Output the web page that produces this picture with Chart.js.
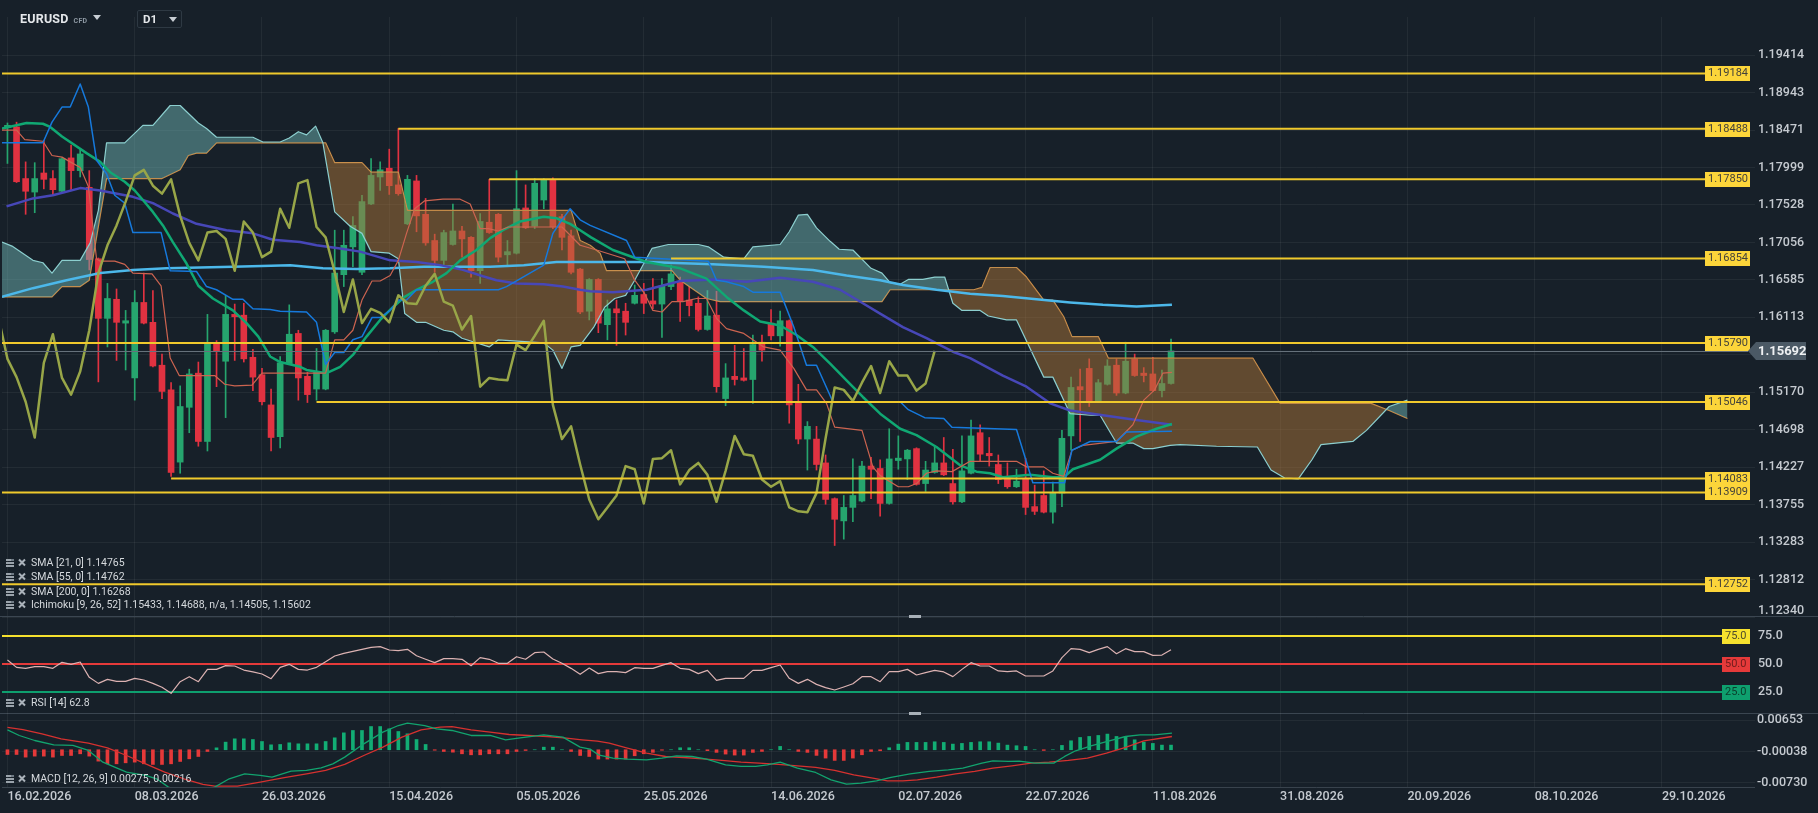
<!DOCTYPE html>
<html><head><meta charset="utf-8">
<script src="https://cdn.jsdelivr.net/npm/chart.js@4.4.1/dist/chart.umd.min.js"></script>
<style>
html,body{margin:0;padding:0;background:#172029;overflow:hidden;}
#wrap{position:relative;width:1818px;height:813px;background:#172029;}
canvas{position:absolute;left:0;top:0;}
.hd{position:absolute;font-family:Roboto,sans-serif;color:#e4e7ea;}
.tri{position:absolute;width:0;height:0;border-left:4px solid transparent;border-right:4px solid transparent;border-top:5px solid #c8ced4;}
</style></head><body>
<div id="wrap">
<canvas id="cMain" width="1818" height="813"></canvas>
<canvas id="cRsi" width="1818" height="813"></canvas>
<canvas id="cMacd" width="1818" height="813"></canvas>
<div class="hd" style="left:20px;top:11px;font-weight:bold;font-size:12.5px;letter-spacing:0.2px;">EURUSD<span style="font-size:7px;color:#8d98a2;margin-left:5px;letter-spacing:0.3px;">CFD</span></div>
<div class="tri" style="left:93px;top:15px;"></div>
<div style="position:absolute;left:137px;top:10px;width:43px;height:16px;border:1px solid #2e3943;border-radius:2px;"></div>
<div class="hd" style="left:143px;top:12px;font-weight:bold;font-size:11.5px;">D1</div>
<div class="tri" style="left:169px;top:17px;"></div>
</div>
<script>
// ---------- DATA ----------
const dateLabels = ['16.02.2026','08.03.2026','26.03.2026','15.04.2026','05.05.2026','25.05.2026','14.06.2026','02.07.2026','22.07.2026','11.08.2026','31.08.2026','20.09.2026','08.10.2026','29.10.2026'];
const dateTickBars = [0,14,28,42,56,70,84,98,112,126,140,154,168,182];
const priceTicks = [1.12340,1.12812,1.13283,1.13755,1.14227,1.14698,1.15170,1.15642,1.16113,1.16585,1.17056,1.17528,1.17999,1.18471,1.18943,1.19414];
const rsiTicks = [75,50,25];
const macdTicks = [0.00653,-0.00038,-0.00730];

const opens = [1.1850,1.1851,1.1786,1.1769,1.1793,1.1786,1.1770,1.1812,1.1796,1.1775,
1.1685,1.1610,1.1634,1.1604,1.1535,1.1630,1.1605,1.1551,1.1520,1.1429,
1.1498,1.1541,1.1455,1.1579,1.1556,1.1615,1.1614,1.1561,1.1539,1.1501,
1.1461,1.1553,1.1591,1.1537,1.1521,1.1521,1.1593,1.1665,1.1700,1.1668,
1.1754,1.1788,1.1799,1.1778,1.1729,1.1783,1.1741,1.1708,1.1683,1.1703,
1.1720,1.1712,1.1670,1.1731,1.1741,1.1690,1.1692,1.1749,1.1726,1.1759,
1.1785,1.1738,1.1714,1.1672,1.1619,1.1659,1.1602,1.1622,1.1619,1.1629,
1.1640,1.1632,1.1628,1.1650,1.1656,1.1633,1.1629,1.1596,1.1614,1.1509,
1.1537,1.1535,1.1533,1.1580,1.1604,1.1588,1.1607,1.1503,1.1458,1.1458,
1.1428,1.1383,1.1355,1.1372,1.1380,1.1424,1.1421,1.1377,1.1431,1.1433,
1.1446,1.1402,1.1416,1.1428,1.1402,1.1379,1.1415,1.1466,1.1440,1.1426,
1.1408,1.1398,1.1408,1.1373,1.1387,1.1366,1.1390,1.1462,1.1524,1.1547,
1.1506,1.1527,1.1551,1.1516,1.1559,1.1541,1.1540,1.1519,1.1528];
const highs = [1.1856,1.1857,1.1807,1.1806,1.1834,1.1796,1.1812,1.1828,1.1824,1.1796,
1.1686,1.1654,1.1647,1.1620,1.1645,1.1667,1.1645,1.1565,1.1529,1.1525,
1.1546,1.1555,1.1615,1.1582,1.1639,1.1628,1.1629,1.1571,1.1547,1.1521,
1.1562,1.1627,1.1595,1.1542,1.1572,1.1596,1.1721,1.1721,1.1738,1.1765,
1.1811,1.1807,1.1823,1.1849,1.1790,1.1790,1.1761,1.1716,1.1721,1.1754,
1.1726,1.1713,1.1742,1.1785,1.1742,1.1708,1.1796,1.1778,1.1786,1.1786,
1.1787,1.1741,1.1721,1.1673,1.1660,1.1660,1.1633,1.1633,1.1629,1.1652,
1.1654,1.1660,1.1660,1.1677,1.1662,1.1650,1.1637,1.1645,1.1644,1.1553,
1.1576,1.1572,1.1589,1.1589,1.1621,1.1619,1.1608,1.1527,1.1480,1.1474,
1.1438,1.1384,1.1387,1.1433,1.1430,1.1435,1.1432,1.1471,1.1462,1.1445,
1.1447,1.1430,1.1450,1.1460,1.1445,1.1462,1.1482,1.1476,1.1460,1.1438,
1.1428,1.1420,1.1434,1.1400,1.1418,1.1404,1.1469,1.1536,1.1546,1.1559,
1.1533,1.1558,1.1559,1.1580,1.1565,1.1548,1.1561,1.1545,1.1584];
const lows = [1.1805,1.1781,1.1741,1.1743,1.1773,1.1765,1.1769,1.1772,1.1788,1.1671,
1.1530,1.1574,1.1557,1.1545,1.1507,1.1603,1.1549,1.1509,1.1411,1.1415,
1.1466,1.1449,1.1443,1.1524,1.1485,1.1557,1.1555,1.1519,1.1501,1.1443,
1.1447,1.1552,1.1507,1.1504,1.1507,1.1520,1.1591,1.1650,1.1675,1.1665,
1.1753,1.1771,1.1766,1.1765,1.1728,1.1719,1.1702,1.1668,1.1677,1.1702,
1.1687,1.1662,1.1654,1.1717,1.1681,1.1675,1.1691,1.1723,1.1723,1.1748,
1.1723,1.1696,1.1666,1.1616,1.1608,1.1592,1.1583,1.1576,1.1589,1.1628,
1.1616,1.1622,1.1586,1.1646,1.1606,1.1613,1.1594,1.1595,1.1517,1.1500,
1.1526,1.1531,1.1503,1.1556,1.1583,1.1575,1.1478,1.1452,1.1419,1.1419,
1.1376,1.1324,1.1332,1.1354,1.1379,1.1383,1.1361,1.1376,1.1420,1.1407,
1.1400,1.1392,1.1415,1.1412,1.1376,1.1378,1.1414,1.1430,1.1424,1.1402,
1.1396,1.1397,1.1363,1.1363,1.1365,1.1352,1.1373,1.1444,1.1455,1.1499,
1.1504,1.1526,1.1513,1.1515,1.1537,1.1530,1.1518,1.1511,1.1527];
const closes = [1.1853,1.1782,1.1770,1.1786,1.1785,1.1772,1.1811,1.1796,1.1817,1.1684,
1.1610,1.1635,1.1605,1.1607,1.1630,1.1604,1.1550,1.1518,1.1416,1.1499,
1.1540,1.1455,1.1578,1.1569,1.1615,1.1612,1.1559,1.1536,1.1505,1.1460,
1.1554,1.1590,1.1535,1.1514,1.1543,1.1595,1.1667,1.1702,1.1727,1.1757,
1.1790,1.1797,1.1777,1.1767,1.1785,1.1739,1.1705,1.1683,1.1718,1.1720,
1.1710,1.1670,1.1732,1.1718,1.1687,1.1694,1.1748,1.1724,1.1780,1.1784,
1.1725,1.1712,1.1668,1.1618,1.1659,1.1604,1.1622,1.1617,1.1605,1.1639,
1.1629,1.1628,1.1651,1.1666,1.1631,1.1626,1.1596,1.1613,1.1524,1.1535,
1.1533,1.1532,1.1577,1.1570,1.1588,1.1607,1.1501,1.1458,1.1474,1.1426,
1.1382,1.1357,1.1372,1.1387,1.1424,1.1420,1.1377,1.1433,1.1434,1.1444,
1.1401,1.1419,1.1428,1.1413,1.1379,1.1418,1.1462,1.1439,1.1437,1.1407,
1.1398,1.1405,1.1372,1.1367,1.1366,1.1390,1.1459,1.1523,1.1520,1.1506,
1.1529,1.1550,1.1516,1.1556,1.1538,1.1538,1.1519,1.1528,1.1569];
const lastPrice = 1.15692;

const sma21Bars = [-0.6,2.1,3.9,4.7,6,8.7,10.2,11.3,12.9,14,14.9,16,17.1,18.2,19.7,21,22.6,24.8,26.3,27.6,28.9,30,32.2,32.9,35.1,36.6,38,39.5,41,42.4,43.7,45,46.8,48.3,49.8,51.6,53.1,54.5,56.4,59,60.4,61.9,63,64.2,66.6,70.3,74,76.9,79.1,81,82.8,85,86.8,88.6,90.5,92.3,94.1,96,98.2,100,102.2,104.8,106.6,108.1,109.5,112.5,115,116.2,117.2,120.2,122,124.2,126.4,128.1];
const sma21Vals = [1.1849,1.1856,1.1855,1.1851,1.1839,1.1818,1.1807,1.1794,1.1782,1.1771,1.1759,1.1744,1.1727,1.1706,1.1679,1.1651,1.1635,1.1620,1.1604,1.1587,1.1562,1.1555,1.1549,1.1545,1.1541,1.1549,1.1564,1.1587,1.1608,1.1624,1.1637,1.1646,1.1656,1.1667,1.1683,1.1696,1.1711,1.1721,1.1732,1.1738,1.1736,1.1729,1.1721,1.1712,1.1696,1.1681,1.1673,1.1660,1.1637,1.1620,1.1606,1.1601,1.1589,1.1574,1.1553,1.1532,1.1511,1.1490,1.1471,1.1463,1.1448,1.1425,1.1417,1.1415,1.1410,1.1413,1.1410,1.1410,1.1420,1.1432,1.1446,1.1461,1.1471,1.1477];
const sma55Bars = [-0.1,2.8,5,8,10.2,13.8,16,18.2,20.8,24.1,27,29.2,32.2,34,36.6,38.8,40.6,42.1,45,47.6,50.1,52.3,53.8,56,59,61.1,63,64.1,66.6,70.3,74,77.6,81.3,85,88.6,91.6,94.1,96,98.5,101.1,104,105.9,109.5,112.1,114.7,116.9,120.5,124.2,128.1];
const sma55Vals = [1.1751,1.1761,1.1765,1.1774,1.1771,1.1763,1.1755,1.1742,1.1729,1.1721,1.1717,1.1709,1.1706,1.1702,1.1698,1.1694,1.1688,1.1683,1.1681,1.1677,1.1671,1.1663,1.1658,1.1654,1.1653,1.1650,1.1646,1.1644,1.1643,1.1646,1.1657,1.1659,1.1656,1.1661,1.1656,1.1646,1.1629,1.1616,1.1599,1.1585,1.1568,1.1560,1.1538,1.1524,1.1503,1.1494,1.1488,1.1482,1.1476];
const sma200Bars = [-0.6,2.8,6.5,10.2,13.8,17.5,21.2,24.8,31.1,34.7,38.4,42.1,45.8,53.1,56.8,60.4,70.3,77.6,83.2,88.6,92.3,96,98.5,102.2,105.9,109.5,113.2,116.9,120.5,124.2,128.1];
const sma200Vals = [1.1637,1.1648,1.1658,1.1667,1.1671,1.1673,1.1674,1.1675,1.1677,1.1673,1.1672,1.1673,1.1675,1.1675,1.1677,1.1681,1.1681,1.1678,1.1675,1.1671,1.1664,1.1658,1.1652,1.1646,1.1641,1.1638,1.1634,1.1630,1.1627,1.1625,1.1627];
const tenkanBars = [-0.6,1,1.9,3.9,4.9,6,6.9,8,8.9,9.8,10.2,11.8,12.9,13.8,15.9,16.9,17.9,18.9,22.8,23.9,25,26.9,28,35,36,37,38,39,40.1,41,42.1,43,43.9,44.8,45.9,47.9,49.8,50.9,52,52.9,54,55.1,60,61,63,64.8,67.9,69,70.1,71,72,73.1,74.3,75.8,76.9,78,79.1,81,82,83.2,85,86.5,87.9,89,90.1,91,94,95.2,96,98,99.1,100,101.1,102.2,103.9,105.9,111,112.1,114,115,116.2,117.1,118.3,122,123.8,125,126.2,127.1,128.1];
const tenkanVals = [1.1847,1.1847,1.1835,1.1833,1.1815,1.1813,1.1807,1.1800,1.1776,1.1685,1.1682,1.1682,1.1678,1.1667,1.1666,1.1651,1.1560,1.1538,1.1538,1.1527,1.1525,1.1526,1.1541,1.1541,1.1583,1.1583,1.1595,1.1633,1.1657,1.1657,1.1664,1.1683,1.1717,1.1748,1.1758,1.1760,1.1760,1.1754,1.1723,1.1723,1.1720,1.1725,1.1725,1.1725,1.1702,1.1696,1.1685,1.1658,1.1641,1.1620,1.1618,1.1631,1.1631,1.1635,1.1635,1.1610,1.1597,1.1591,1.1583,1.1574,1.1570,1.1547,1.1520,1.1520,1.1503,1.1473,1.1469,1.1423,1.1412,1.1398,1.1398,1.1402,1.1415,1.1418,1.1417,1.1430,1.1430,1.1423,1.1423,1.1415,1.1411,1.1444,1.1450,1.1455,1.1476,1.1507,1.1520,1.1541,1.1542];
const kijunBars = [-0.6,3.9,4.9,6,6.9,8,8.9,9.8,10.9,11.8,12.9,13.8,16.9,17.9,20.8,21.9,23,24.8,25.9,27,28.9,30,32.9,34,35,36,37,38,39,40.1,41,42.1,43,43.9,45,54,54.9,59,60,61,61.9,63,64.1,68.1,69,77.1,78,79.1,81,82,85,86.5,87.9,89,90.8,98.2,99.1,100.9,103,103.9,111,112.8,116.3,117.1,119.1,122,123.1,128.1];
const kijunVals = [1.1831,1.1831,1.1857,1.1876,1.1876,1.1905,1.1876,1.1809,1.1792,1.1765,1.1755,1.1718,1.1718,1.1670,1.1669,1.1650,1.1646,1.1634,1.1634,1.1622,1.1621,1.1619,1.1618,1.1605,1.1552,1.1567,1.1567,1.1583,1.1587,1.1611,1.1611,1.1620,1.1633,1.1633,1.1646,1.1646,1.1650,1.1677,1.1717,1.1734,1.1748,1.1734,1.1727,1.1708,1.1687,1.1682,1.1658,1.1656,1.1650,1.1643,1.1643,1.1599,1.1551,1.1551,1.1505,1.1505,1.1495,1.1485,1.1484,1.1473,1.1470,1.1403,1.1403,1.1444,1.1455,1.1455,1.1467,1.1468];
const chikouStartBar = -1;
const chikouVals = [1.1612,1.1559,1.1536,1.1505,1.1460,1.1554,1.1590,1.1535,1.1514,1.1543,
1.1595,1.1667,1.1702,1.1727,1.1757,1.1790,1.1797,1.1777,1.1767,1.1785,
1.1739,1.1705,1.1683,1.1718,1.1720,1.1710,1.1670,1.1732,1.1718,1.1687,
1.1694,1.1748,1.1724,1.1780,1.1784,1.1725,1.1712,1.1668,1.1618,1.1659,
1.1604,1.1622,1.1617,1.1605,1.1639,1.1629,1.1628,1.1651,1.1666,1.1631,
1.1626,1.1596,1.1613,1.1524,1.1535,1.1533,1.1532,1.1577,1.1570,1.1588,
1.1607,1.1501,1.1458,1.1474,1.1426,1.1382,1.1357,1.1372,1.1387,1.1424,
1.1420,1.1377,1.1433,1.1434,1.1444,1.1401,1.1419,1.1428,1.1413,1.1379,
1.1418,1.1462,1.1439,1.1437,1.1407,1.1398,1.1405,1.1372,1.1367,1.1366,
1.1390,1.1459,1.1523,1.1520,1.1506,1.1529,1.1550,1.1516,1.1556,1.1538,
1.1538,1.1519,1.1528,1.1569];
const spanABars = [-0.6,0.5,2.8,3.9,4.9,6,8,9.1,10,10.9,12.9,14.9,16,17.9,19,21,21.9,23,27,28.1,30,31,32,32.9,33.9,34.7,36,37.7,39,40,42,43,43.7,45,46,48,49,50,53,54,59,60,61,62,63,64.5,65.7,66.8,68,69,70.9,72.7,76,77.1,78.8,81,82,85,86,87,88,89,90.5,91.5,93,95,96.2,97.1,98.2,99.1,100.7,102,103.1,104,105,107,107.9,109.9,111,114,115,116.9,119.1,120.2,122,123.8,125,126,127.9,129,133,137.5,139,140.5,142,143.5,144.5,148,149.5,152,154];
const spanAVals = [1.1706,1.1701,1.1683,1.1680,1.1667,1.1683,1.1683,1.1705,1.1746,1.1831,1.1831,1.1853,1.1853,1.1878,1.1878,1.1856,1.1849,1.1838,1.1838,1.1832,1.1832,1.1837,1.1845,1.1841,1.1852,1.1831,1.1744,1.1726,1.1717,1.1694,1.1692,1.1685,1.1616,1.1605,1.1605,1.1595,1.1593,1.1585,1.1574,1.1583,1.1579,1.1570,1.1547,1.1574,1.1576,1.1599,1.1624,1.1635,1.1639,1.1658,1.1698,1.1703,1.1703,1.1700,1.1687,1.1685,1.1700,1.1703,1.1719,1.1740,1.1741,1.1724,1.1707,1.1697,1.1696,1.1673,1.1667,1.1655,1.1653,1.1659,1.1659,1.1662,1.1662,1.1629,1.1620,1.1620,1.1613,1.1608,1.1608,1.1536,1.1536,1.1490,1.1488,1.1488,1.1453,1.1453,1.1446,1.1446,1.1450,1.1451,1.1449,1.1448,1.1419,1.1409,1.1408,1.1432,1.1451,1.1455,1.1469,1.1499,1.1507];
const spanBBars = [-0.6,4.9,6,8,9,10.9,17,19,19.9,20.8,21.9,23,35,36,39,40,43,44,62,63,64.1,65.2,65.9,73.1,74,76.9,78.4,96.2,97.1,106.3,107.2,108.1,111,112.1,114,115,116.2,117.1,120,121.1,137,140,150,152,154];
const spanBVals = [1.1637,1.1637,1.1650,1.1650,1.1658,1.1786,1.1786,1.1797,1.1815,1.1818,1.1818,1.1831,1.1831,1.1806,1.1806,1.1794,1.1794,1.1746,1.1746,1.1708,1.1702,1.1692,1.1670,1.1670,1.1658,1.1635,1.1631,1.1631,1.1646,1.1646,1.1649,1.1674,1.1674,1.1662,1.1633,1.1633,1.1612,1.1587,1.1587,1.1560,1.1560,1.1503,1.1503,1.1494,1.1484];

const levelValues = [1.19184,1.18488,1.17850,1.16854,1.15790,1.15046,1.14083,1.13909,1.12752];
const levelStartBars = [-1,43,53,73,-1,34,18,-1,-1];

const rsiVals = [53.6,47.0,46.1,47.6,47.6,46.1,51.5,49.7,51.8,38.1,32.7,36.3,34.5,34.5,37.2,35.7,32.7,29.2,23.8,34.2,
38.7,34.2,45.2,45.2,48.5,48.2,44.6,42.9,41.1,36.9,47.0,49.7,45.2,44.6,47.0,52.1,57.1,59.5,61.3,63.1,
64.9,65.5,62.5,61.9,63.1,57.4,54.2,51.2,54.8,54.8,54.2,48.5,55.7,54.2,50.6,50.6,56.5,54.2,60.1,60.7,
54.5,50.6,46.1,40.8,46.4,41.4,43.2,43.2,42.3,46.7,46.1,46.1,48.8,51.2,46.1,45.2,41.4,44.3,35.4,37.2,
37.2,37.2,44.3,44.3,46.7,49.1,37.2,32.7,36.3,31.8,28.9,26.8,29.5,32.4,38.7,38.7,34.2,43.2,43.2,45.2,
40.2,42.3,44.3,42.9,38.7,45.2,51.2,48.2,48.2,43.8,43.2,43.8,39.3,39.3,39.3,43.8,55.7,63.7,63.1,60.1,
63.1,65.5,59.2,63.7,61.0,61.0,57.7,58.0,62.8];
const rsiLevels = [75,50,25];

const histVals = [-0.00104,-0.00104,-0.00162,-0.0014,-0.0014,-0.00162,-0.00126,-0.00126,-0.00089,-0.0014,
-0.0025,-0.00309,-0.00309,-0.00287,-0.00272,-0.00309,-0.00323,-0.00323,-0.00309,-0.00257,
-0.00199,-0.00148,-0.00038,0.00042,0.00167,0.0024,0.0024,0.00225,0.00181,0.00108,
0.00116,0.00152,0.0013,0.0013,0.0013,0.00181,0.00262,0.00371,0.00423,0.00423,
0.0051,0.0051,0.00459,0.00401,0.0035,0.00225,0.00116,-0.0001,-0.00038,-0.00053,
-0.00089,-0.00111,-0.00111,-0.00089,-0.00089,-0.00089,-0.00038,-0.00016,0,0.00057,
0.00057,0,-0.00038,-0.00126,-0.00148,-0.00205,-0.00205,-0.00205,-0.00205,-0.00132,
-0.00088,-0.00058,-0.0001,0,0.00044,0.00044,0,-0.0002,-0.00058,-0.00095,
-0.00117,-0.00117,-0.00058,-0.00037,0,0.00073,0,-0.00037,-0.00058,-0.00124,
-0.00183,-0.00234,-0.00234,-0.00183,-0.0011,-0.00037,-0.00022,0.00044,0.00124,0.00161,
0.00161,0.00161,0.00175,0.00161,0.00124,0.00139,0.00161,0.00175,0.00175,0.00146,
0.00102,0.00088,0.00073,0,-0.00015,0,0.00095,0.00197,0.0027,0.00292,
0.00314,0.00344,0.00292,0.00292,0.00219,0.00168,0.00139,0.00102,0.00102];
const macdBars = [0,1.3,3,5.1,7.2,8.9,10.5,13.1,15.2,16.4,17.7,19.5,21.5,22.8,24.4,26.1,27.8,29.1,31.2,32.9,34.5,35.8,37.1,39.2,41.3,43,44,45.9,47.2,48.9,51,53.1,54.8,56.4,59,61.1,63,64.1,65,66.6,68.2,70.3,72,73.6,75.3,76.9,79,80.7,82.3,83.6,85,86.9,88.9,90.6,92.3,93.9,95.6,97.2,99.3,101.4,103.5,105.1,107.2,108.4,110.1,111.3,113,115.1,116.3,117.5,119.2,120.9,123,124.6,126.2,128.1];
const macdVals = [0.00437,0.00313,0.00203,0.00108,0.00094,-0.00016,-0.00272,-0.00491,-0.00564,-0.00637,-0.0082,-0.0094,-0.0093,-0.0082,-0.00637,-0.00528,-0.00564,-0.00601,-0.0047,-0.00455,-0.00396,-0.00309,-0.00162,0.0013,0.00386,0.00532,0.00583,0.00532,0.00459,0.00423,0.00313,0.00313,0.00218,0.00262,0.00327,0.00276,0.00057,0.00013,-0.0011,-0.00184,-0.00206,-0.00221,-0.00184,-0.00133,-0.00148,-0.00206,-0.0033,-0.00367,-0.00367,-0.0033,-0.00272,-0.00404,-0.00499,-0.0066,-0.00755,-0.00733,-0.00682,-0.00608,-0.00528,-0.00477,-0.0044,-0.00404,-0.00294,-0.00243,-0.00257,-0.0025,-0.00294,-0.00294,-0.00147,-0.00023,0.00086,0.00181,0.00291,0.00328,0.00328,0.00364];
const signalBars = [0,1.7,3.8,5.9,8.9,11,13.1,15.2,17.3,19.4,21.5,22.8,25.3,27.8,30.3,32.9,35,37.1,39.2,41.3,43.4,45.5,47.6,48.9,51,53.1,55.2,57.3,59.4,61.5,63.2,64.9,66.2,68.2,70.3,72.4,74.4,76.5,78.6,80.7,82.7,84.8,86.9,88.9,91,93.1,95.2,96.8,98.5,100.1,102.2,104.3,106.4,108.4,110.5,112.6,114.6,116.7,118.8,120.9,123,125,128.1];
const signalVals = [0.0049,0.00444,0.0035,0.0024,0.00145,0.00042,-0.00126,-0.00309,-0.00491,-0.00637,-0.00762,-0.00798,-0.00798,-0.00711,-0.00616,-0.00528,-0.00455,-0.00323,-0.00126,0.00057,0.00276,0.00437,0.00496,0.0051,0.00437,0.00386,0.00335,0.00313,0.00291,0.00254,0.00218,0.00189,0.00146,0.00035,-0.00075,-0.00148,-0.0017,-0.00199,-0.00235,-0.00272,-0.00294,-0.00323,-0.00352,-0.00389,-0.00455,-0.0055,-0.00623,-0.00682,-0.00682,-0.0066,-0.00601,-0.00528,-0.00477,-0.00404,-0.00352,-0.00294,-0.00272,-0.00235,-0.00184,-0.00075,0.0005,0.00196,0.00291];

const mainLegend = ['SMA [21, 0] 1.14765','SMA [55, 0] 1.14762','SMA [200, 0] 1.16268','Ichimoku [9, 26, 52] 1.15433, 1.14688, n/a, 1.14505, 1.15602'];
const rsiLegend = 'RSI [14] 62.8';
const macdLegend = 'MACD [12, 26, 9] 0.00275, 0.00216';

// ---------- STYLE ----------
Chart.defaults.font.family = 'Roboto, sans-serif';
const GRID = 'rgba(255,255,255,0.055)';
const GREEN = '#26a56e', RED = '#e13241';
const LABEL = '#c5cad0';
const X_MIN = -0.6, X_MAX = 192.24;
const xy = (bars, vals) => bars.map((b,i)=>({x:b, y:vals[i]}));

function baseOptions(top, bottom, yMin, yMax, yTicks, yGrid){
  return {
    responsive:false, animation:false, devicePixelRatio:1, events:[],
    layout:{padding:{top:top,bottom:bottom,left:2,right:0}, autoPadding:false},
    plugins:{legend:{display:false}, tooltip:{enabled:false}},
    scales:{
      x:{type:'linear', min:X_MIN, max:X_MAX, offset:false,
         afterBuildTicks:a=>{a.ticks = dateTickBars.map(v=>({value:v}));},
         ticks:{display:false}, grid:{color:GRID, drawTicks:false, offset:false, lineWidth:1}, border:{display:false}},
      y:{type:'linear', position:'right', min:yMin, max:yMax, beginAtZero:false,
         afterBuildTicks:a=>{a.ticks = yTicks.map(v=>({value:v}));},
         afterFit:s=>{s.width = 63;},
         ticks:{display:false}, grid:{display:yGrid, color:GRID, drawTicks:false}, border:{display:false}}
    }
  };
}
function drawLegendIcon(ctx, x, y){
  ctx.fillStyle = '#9aa3ab';
  ctx.fillRect(x, y-4, 8, 2); ctx.fillRect(x, y-1, 8, 2); ctx.fillRect(x, y+2, 8, 2);
  ctx.fillStyle = '#6f7a84'; ctx.fillRect(x+5, y-4, 3, 2);
  ctx.strokeStyle = '#aab2ba'; ctx.lineWidth = 2;
  ctx.beginPath(); ctx.moveTo(x+13, y-3.5); ctx.lineTo(x+19, y+2.5); ctx.moveTo(x+19, y-3.5); ctx.lineTo(x+13, y+2.5); ctx.stroke();
}
function legendText(ctx, txt, y){
  drawLegendIcon(ctx, 6, y);
  ctx.fillStyle = '#d5d9dd'; ctx.font = '10.5px Roboto'; ctx.textAlign = 'left'; ctx.textBaseline = 'middle';
  ctx.fillText(txt, 31, y);
}
function separator(ctx, y){
  ctx.strokeStyle = '#3b4651'; ctx.lineWidth = 1;
  ctx.beginPath(); ctx.moveTo(0, y+0.5); ctx.lineTo(1818, y+0.5); ctx.stroke();
  ctx.fillStyle = '#a9b1b8'; ctx.fillRect(909, y-1, 12, 3);
}

// ---------- MAIN CHART ----------
const mainDecor = {
  id:'mainDecor',
  afterDatasetsDraw(chart){
    const {ctx, chartArea:a, scales:{x, y}} = chart;
    ctx.save();
    const cy = Math.round(y.getPixelForValue(lastPrice)) + 0.5;
    ctx.strokeStyle = '#66717b'; ctx.lineWidth = 1;
    ctx.beginPath(); ctx.moveTo(a.left, cy); ctx.lineTo(1748, cy); ctx.stroke();
    levelValues.forEach((v,i)=>{
      const ly = y.getPixelForValue(v);
      const sx = Math.max(a.left, x.getPixelForValue(levelStartBars[i]));
      ctx.strokeStyle = '#f0c92c'; ctx.lineWidth = 2;
      ctx.beginPath(); ctx.moveTo(sx, ly); ctx.lineTo(1705, ly); ctx.stroke();
      ctx.fillStyle = '#fcd53a'; ctx.fillRect(1705, Math.round(ly)-7, 45, 15);
      ctx.fillStyle = '#44423a'; ctx.font = '11px Roboto'; ctx.textAlign = 'left'; ctx.textBaseline = 'middle';
      ctx.fillText(v.toFixed(5), 1708, Math.round(ly)+0.5);
    });
    ctx.restore();
  },
  afterDraw(chart){
    const {ctx, scales:{y}} = chart;
    ctx.save();
    ctx.font = '500 12.5px Roboto'; ctx.fillStyle = LABEL; ctx.textAlign = 'left'; ctx.textBaseline = 'middle';
    priceTicks.forEach(v=>{ ctx.fillText(v.toFixed(5), 1758, Math.min(y.getPixelForValue(v), 611)); });
    const cy = Math.round(y.getPixelForValue(lastPrice));
    ctx.fillStyle = '#4b5965';
    ctx.beginPath(); ctx.moveTo(1748, cy); ctx.lineTo(1756, cy-9); ctx.lineTo(1806, cy-9); ctx.lineTo(1806, cy+9); ctx.lineTo(1756, cy+9); ctx.closePath(); ctx.fill();
    ctx.fillStyle = '#eef0f2'; ctx.font = 'bold 13px Roboto';
    ctx.fillText(lastPrice.toFixed(5), 1758, cy+0.5);
    const rows = [563, 577, 592, 605];
    mainLegend.forEach((t,i)=>legendText(ctx, t, rows[i]));
    separator(ctx, 616);
    ctx.restore();
  }
};
const candleColor = c => closes[c.dataIndex] >= opens[c.dataIndex] ? GREEN : RED;
const lineDs = (data, color, width, order) => ({type:'line', data, parsing:false, borderColor:color, borderWidth:width, pointRadius:0, fill:false, tension:0, order, borderJoinStyle:'round'});

const mainDatasets = [
  {type:'bar', data:lows.map((l,i)=>({x:i, y:[l, highs[i]]})), backgroundColor:candleColor, barThickness:1, grouped:false, order:11, borderWidth:0},
  {type:'bar', data:opens.map((o,i)=>({x:i, y:[o, closes[i]]})), backgroundColor:candleColor, barThickness:6, grouped:false, order:10, borderWidth:0, minBarLength:1.5},
  lineDs(xy(spanBBars, spanBVals), '#d58f45', 1.2, 6),
  Object.assign(lineDs(xy(spanABars, spanAVals), '#8ccfcf', 1.2, 5), {fill:{target:2, above:'rgba(110,178,178,0.5)', below:'rgba(172,116,56,0.5)'}}),
  lineDs(xy(sma200Bars, sma200Vals), '#4cb8ea', 2.5, 4),
  lineDs(xy(sma55Bars, sma55Vals), '#4747b8', 2.5, 3),
  lineDs(xy(sma21Bars, sma21Vals), '#10a873', 2.5, 2),
  lineDs(xy(kijunBars, kijunVals), '#1679dc', 1.5, 1),
  lineDs(xy(tenkanBars, tenkanVals), '#cd6450', 1.2, 1),
  lineDs(chikouVals.map((v,i)=>({x:chikouStartBar+i, y:v})), '#98a648', 2.5, 0)
];
const mainOpts = baseOptions(17, 196, 1.12340, 1.19894, priceTicks, true);
new Chart(document.getElementById('cMain'), {type:'line', data:{datasets:mainDatasets}, options:mainOpts, plugins:[mainDecor]});

// ---------- RSI CHART ----------
const rsiLevelColors = ['#f6e12e','#e53a3a','#0e9f6e'];
const rsiLevelText = ['#4d4a2c','#6e1c1c','#0b3d2b'];
const rsiDecor = {
  id:'rsiDecor',
  beforeDatasetsDraw(chart){
    const {ctx, chartArea:a, scales:{y}} = chart;
    ctx.save();
    rsiLevels.forEach((v,i)=>{
      const ly = Math.round(y.getPixelForValue(v));
      ctx.strokeStyle = rsiLevelColors[i]; ctx.lineWidth = 2;
      ctx.beginPath(); ctx.moveTo(a.left, ly); ctx.lineTo(1722, ly); ctx.stroke();
    });
    ctx.restore();
  },
  afterDraw(chart){
    const {ctx, scales:{y}} = chart;
    ctx.save();
    ctx.textAlign = 'left'; ctx.textBaseline = 'middle';
    rsiLevels.forEach((v,i)=>{
      const ly = Math.round(y.getPixelForValue(v));
      ctx.fillStyle = rsiLevelColors[i]; ctx.fillRect(1722, ly-7, 28, 15);
      ctx.fillStyle = rsiLevelText[i]; ctx.font = '11px Roboto'; ctx.fillText(v.toFixed(1), 1725, ly+0.5);
    });
    ctx.font = '500 12.5px Roboto'; ctx.fillStyle = LABEL;
    rsiTicks.forEach(v=>ctx.fillText(v.toFixed(1), 1758, y.getPixelForValue(v)));
    legendText(ctx, rsiLegend, 703);
    separator(ctx, 713);
    ctx.restore();
  }
};
new Chart(document.getElementById('cRsi'), {type:'line',
  data:{datasets:[lineDs(rsiVals.map((v,i)=>({x:i, y:v})), '#dcb2b2', 1.2, 0)]},
  options:baseOptions(617, 100, 6.25, 91.96, rsiTicks, false), plugins:[rsiDecor]});

// ---------- MACD CHART ----------
const macdDecor = {
  id:'macdDecor',
  afterDraw(chart){
    const {ctx, chartArea:a, scales:{x, y}} = chart;
    ctx.save();
    ctx.textAlign = 'left'; ctx.textBaseline = 'middle';
    ctx.font = '500 12.5px Roboto'; ctx.fillStyle = LABEL;
    macdTicks.forEach(v=>ctx.fillText(v.toFixed(5), 1757, y.getPixelForValue(v)));
    dateTickBars.forEach((b,i)=>ctx.fillText(dateLabels[i], x.getPixelForValue(b), 797));
    ctx.strokeStyle = '#39434d'; ctx.lineWidth = 1;
    ctx.beginPath(); ctx.moveTo(a.left, a.bottom+0.5); ctx.lineTo(a.right, a.bottom+0.5); ctx.stroke();
    legendText(ctx, macdLegend, 779);
    ctx.restore();
  }
};
new Chart(document.getElementById('cMacd'), {type:'line',
  data:{datasets:[
    {type:'bar', data:histVals.map((v,i)=>({x:i, y:v})), backgroundColor:c=>histVals[c.dataIndex] >= 0 ? '#12ad74' : '#e53939', barThickness:3, grouped:false, order:5, borderWidth:0},
    lineDs(xy(signalBars, signalVals), '#d6312f', 1.3, 1),
    lineDs(xy(macdBars, macdVals), '#12a36e', 1.3, 0)
  ]},
  options:baseOptions(713, 26, -0.00818, 0.00807, macdTicks, true), plugins:[macdDecor]});
</script>
</body></html>
